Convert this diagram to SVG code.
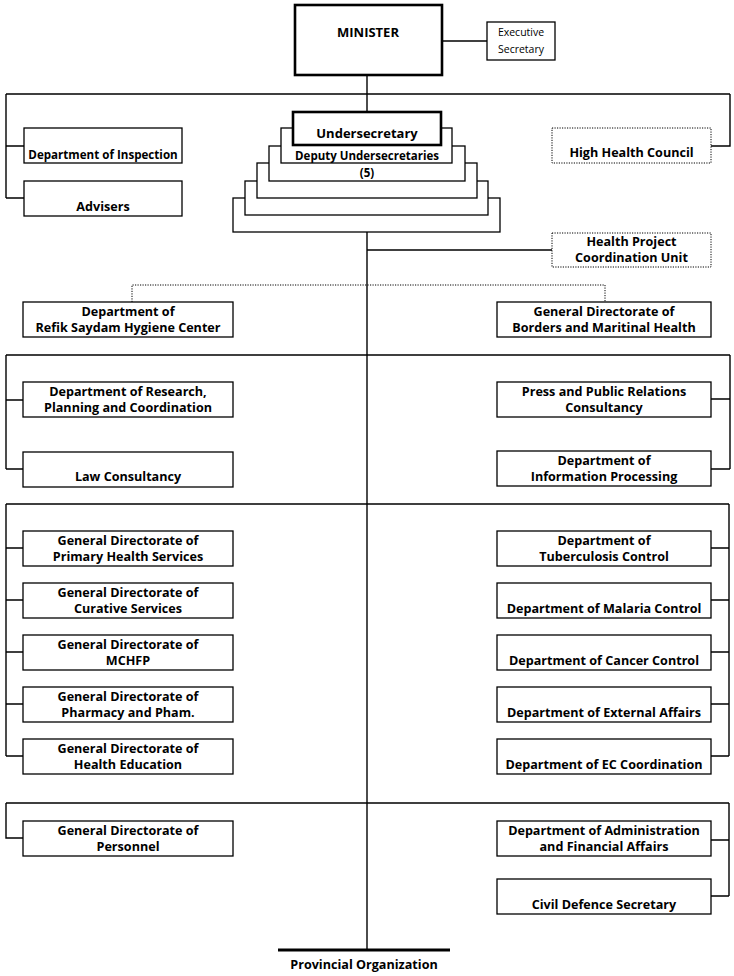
<svg xmlns="http://www.w3.org/2000/svg" width="734" height="976" viewBox="0 0 734 976">
<style>
.bg{fill:#fff}
.box{fill:#fff;stroke:#000;stroke-width:1.3}
.thick{fill:#fff;stroke:#000;stroke-width:2.6}
.dot{fill:#fff;stroke:#000;stroke-width:1;stroke-dasharray:1.2 1.3}
.ln{fill:none;stroke:#000;stroke-width:1.4}
.dln{fill:none;stroke:#000;stroke-width:1;stroke-dasharray:1.2 1.3}
.bar{fill:none;stroke:#000;stroke-width:3}
text{font-family:"Open Sans","Liberation Sans",sans-serif;font-weight:700;font-size:12.6px;text-anchor:middle;fill:#000}
.sm{font-weight:400;font-size:10.5px}
.big{font-size:13px}
.dep{font-size:11.5px}
.ins{font-size:11.6px}
</style>
<rect class="bg" x="0" y="0" width="734" height="976"/>
<g id="connectors">
<path class="ln" d="M367 75V112"/>
<path class="ln" d="M442 41H487"/>
<path class="ln" d="M6 94H730M6 94V198M6 146H24M6 198H24M730 94V146H711"/>
<path class="ln" d="M367 232V950"/>
<path class="ln" d="M367 250H552"/>
<path class="dln" d="M132 302V285H605V302"/>
<path class="ln" d="M6 355H730M6 355V469M6 400H23M6 469H23M730 355V469M730 399H711M730 469H711"/>
<path class="ln" d="M6 504H729M6 504V756M6 548H23M6 600H23M6 652H23M6 704H23M6 756H23M729 504V756M729 548H711M729 600H711M729 652H711M729 704H711M729 756H711"/>
<path class="ln" d="M6 803H729M6 803V838H23M729 803V896M729 840H711M729 896H711"/>
<path class="bar" d="M278 950H450"/>
</g>
<g id="minister"><rect class="thick" x="295" y="5" width="147" height="70"/><text class="big" x="368" y="37">MINISTER</text></g>
<g id="executive-secretary"><rect class="box" x="487" y="22" width="68" height="38"/><text class="sm" x="521" y="36">Executive</text><text class="sm" x="521" y="53">Secretary</text></g>
<g id="department-of-inspection"><rect class="box" x="24" y="128" width="158" height="35"/><text class="ins" x="103" y="159">Department of Inspection</text></g>
<g id="advisers"><rect class="box" x="24" y="181" width="158" height="35"/><text x="103" y="211">Advisers</text></g>
<g id="high-health-council"><rect class="dot" x="552" y="128" width="159" height="35"/><text x="631.5" y="157">High Health Council</text></g>
<g id="deputy-undersecretaries">
<rect class="box" x="233" y="198" width="267" height="34"/>
<rect class="box" x="245" y="181" width="243" height="34"/>
<rect class="box" x="257" y="163" width="220" height="35"/>
<rect class="box" x="269" y="146" width="196" height="35"/>
<rect class="box" x="281" y="128" width="171" height="35"/>
<text class="dep" x="367" y="160">Deputy Undersecretaries</text>
<text class="dep" x="367" y="177">(5)</text>
</g>
<g id="undersecretary"><rect class="thick" x="293" y="112" width="148" height="33"/><text class="big" x="367" y="138">Undersecretary</text></g>
<g id="health-project-coordination-unit"><rect class="dot" x="552" y="233" width="159" height="34"/><text x="631.5" y="246">Health Project</text><text x="631.5" y="262">Coordination Unit</text></g>
<g id="refik-saydam"><rect class="box" x="23" y="302" width="210" height="35"/><text x="128" y="316">Department of</text><text x="128" y="332">Refik Saydam Hygiene Center</text></g>
<g id="borders-maritinal"><rect class="box" x="497" y="302" width="214" height="35"/><text x="604" y="316">General Directorate of</text><text x="604" y="332">Borders and Maritinal Health</text></g>
<g id="research-planning"><rect class="box" x="23" y="382" width="210" height="35"/><text x="128" y="396">Department of Research,</text><text x="128" y="412">Planning and Coordination</text></g>
<g id="law-consultancy"><rect class="box" x="23" y="452" width="210" height="35"/><text x="128" y="481">Law Consultancy</text></g>
<g id="press-public-relations"><rect class="box" x="497" y="382" width="214" height="35"/><text x="604" y="396">Press and Public Relations</text><text x="604" y="412">Consultancy</text></g>
<g id="information-processing"><rect class="box" x="497" y="451" width="214" height="35"/><text x="604" y="465">Department of</text><text x="604" y="481">Information Processing</text></g>
<g id="primary-health"><rect class="box" x="23" y="531" width="210" height="35"/><text x="128" y="545">General Directorate of</text><text x="128" y="561">Primary Health Services</text></g>
<g id="curative-services"><rect class="box" x="23" y="583" width="210" height="35"/><text x="128" y="597">General Directorate of</text><text x="128" y="613">Curative Services</text></g>
<g id="mchfp"><rect class="box" x="23" y="635" width="210" height="35"/><text x="128" y="649">General Directorate of</text><text x="128" y="665">MCHFP</text></g>
<g id="pharmacy"><rect class="box" x="23" y="687" width="210" height="35"/><text x="128" y="701">General Directorate of</text><text x="128" y="717">Pharmacy and Pham.</text></g>
<g id="health-education"><rect class="box" x="23" y="739" width="210" height="35"/><text x="128" y="753">General Directorate of</text><text x="128" y="769">Health Education</text></g>
<g id="tuberculosis"><rect class="box" x="497" y="531" width="214" height="35"/><text x="604" y="545">Department of</text><text x="604" y="561">Tuberculosis Control</text></g>
<g id="malaria"><rect class="box" x="497" y="583" width="214" height="35"/><text x="604" y="613">Department of Malaria Control</text></g>
<g id="cancer"><rect class="box" x="497" y="635" width="214" height="35"/><text x="604" y="665">Department of Cancer Control</text></g>
<g id="external-affairs"><rect class="box" x="497" y="687" width="214" height="35"/><text x="604" y="717">Department of External Affairs</text></g>
<g id="ec-coordination"><rect class="box" x="497" y="739" width="214" height="35"/><text x="604" y="769">Department of EC Coordination</text></g>
<g id="personnel"><rect class="box" x="23" y="821" width="210" height="35"/><text x="128" y="835">General Directorate of</text><text x="128" y="851">Personnel</text></g>
<g id="administration-financial"><rect class="box" x="497" y="821" width="214" height="35"/><text x="604" y="835">Department of Administration</text><text x="604" y="851">and Financial Affairs</text></g>
<g id="civil-defence"><rect class="box" x="497" y="879" width="214" height="35"/><text x="604" y="909">Civil Defence Secretary</text></g>
<g id="provincial-organization"><text x="364" y="969">Provincial Organization</text></g>
</svg>
